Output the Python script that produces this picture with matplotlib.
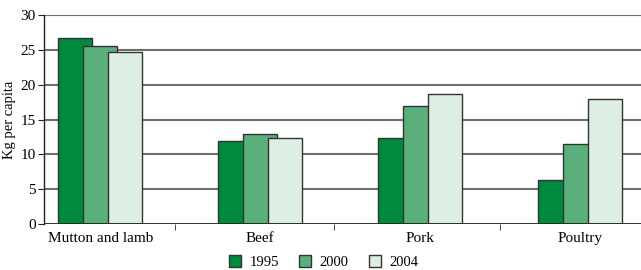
import numpy as np
from matplotlib import pyplot as plt
from matplotlib.patches import Patch

plt.rcParams['font.family'] = ['Liberation Serif', 'DejaVu Serif']

categories = ['Mutton and lamb', 'Beef', 'Pork', 'Poultry']
years = ['1995', '2000', '2004']
v1995 = [26.7, 11.9, 12.3, 6.4]
v2000 = [25.6, 13.0, 17.0, 11.5]
v2004 = [24.7, 12.4, 18.7, 17.9]

colors = ['#008a3e', '#5aaf7b', '#ddeee3']
series = [v1995, v2000, v2004]

fig = plt.figure(figsize=(6.41, 2.70), dpi=100)
ax = fig.add_axes([0.0686, 0.17, 0.94, 0.774])

x = np.arange(len(categories))
w = 0.2125
step = 0.156
for i, vals in enumerate(series):
    ax.bar(x + (i - 1) * step, vals, width=w, color=colors[i],
           edgecolor='#333333', linewidth=1.0, zorder=3 + i)

ax.set_ylim(0, 30)
ax.set_xlim(-0.352, 3.414)
ax.set_yticks(range(0, 31, 5))
for y in range(5, 31, 5):
    ax.axhline(y, color='#6e6e6e', lw=1.5, zorder=1)
ax.axhline(0, color='#222222', lw=1.3, zorder=6)

for s in ['top', 'right', 'bottom']:
    ax.spines[s].set_visible(False)
ax.spines['left'].set_color('#222222')
ax.spines['left'].set_linewidth(1.0)

ax.set_xticks(x)
ax.set_xticklabels(categories)
ax.tick_params(axis='x', length=0, pad=6, labelsize=11)
ax.set_xticks([0.467, 1.46, 2.5], minor=True)
ax.tick_params(axis='x', which='minor', length=4, color='#222222')
ax.tick_params(axis='y', length=4, color='#222222', labelsize=11, pad=2)
ax.set_ylabel('Kg per capita', fontsize=10.5, labelpad=3)

handles = [Patch(facecolor=c, edgecolor='#333333', label=y) for c, y in zip(colors, years)]
fig.legend(handles=handles, loc='lower center', ncol=3, frameon=False,
           bbox_to_anchor=(0.505, -0.045), fontsize=10.5, handlelength=0.8,
           handleheight=0.9, columnspacing=1.4, handletextpad=0.6)

fig.savefig('out.png', dpi=100)
